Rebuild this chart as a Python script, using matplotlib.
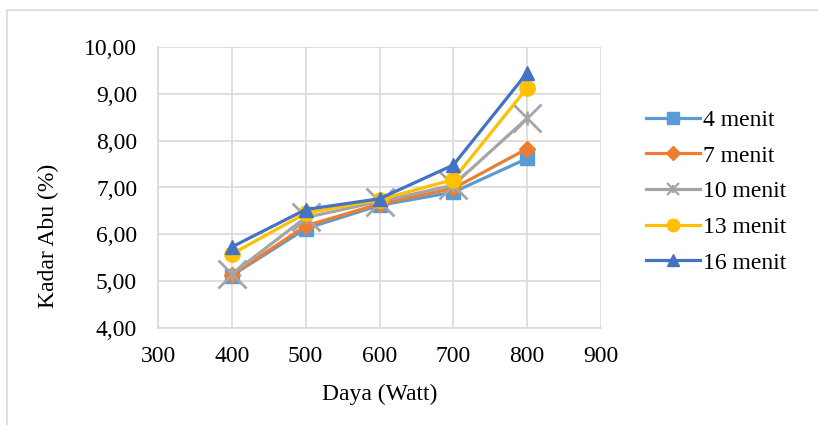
import matplotlib.pyplot as plt
from matplotlib.lines import Line2D
from matplotlib.legend_handler import HandlerTuple
from matplotlib.patches import Rectangle
from matplotlib.ticker import FuncFormatter

plt.rcParams['font.family'] = ['Liberation Serif', 'DejaVu Serif']
FONTSIZE = 17

# Data
daya = [400, 500, 600, 700, 800]
labels = ["4 menit", "7 menit", "10 menit", "13 menit", "16 menit"]
m4 = [5.12, 6.12, 6.62, 6.90, 7.62]
m7 = [5.13, 6.18, 6.65, 6.98, 7.83]
m10 = [5.15, 6.36, 6.70, 7.05, 8.48]
m13 = [5.58, 6.45, 6.74, 7.17, 9.13]
m16 = [5.73, 6.53, 6.76, 7.48, 9.45]

series = [m4, m7, m10, m13, m16]
colors = ["#5B9BD5", "#ED7D31", "#A5A5A5", "#FFC000", "#4472C4"]
markers = ["s", "D", "x", "o", "^"]
msizes = [9.5, 8.5, 20, 11, 10.5]
leg_sizes = [8, 7.5, 8, 9, 8.5]

fig = plt.figure(figsize=(8.18, 4.25), dpi=100)
ax = fig.add_axes([158 / 818, 1 - 328 / 425, (601 - 158) / 818, (328 - 47) / 425])

# chart area border (light gray, open to right/bottom like the crop)
fig.patches.append(Rectangle((7 / 818, -0.5), 2, 1.5 - 10 / 425, transform=fig.transFigure,
                             fill=False, edgecolor="#D9D9D9", linewidth=1.2))

handles = []
for y, lab, c, m, ms, ls in zip(series, labels, colors, markers, msizes, leg_sizes):
    if m == "x":
        # excel "star" marker: big x with a short vertical bar
        ax.plot(daya, y, color=c, marker="x", markersize=ms, markeredgewidth=2, linewidth=2.3)
        ax.plot(daya, y, color=c, marker="|", markersize=10, markeredgewidth=2, linestyle="none")
        h = (Line2D([], [], color=c, marker="x", markersize=ls, markeredgewidth=1.6, linewidth=2.3),
             Line2D([], [], color=c, marker="|", markersize=ls * 0.8, markeredgewidth=1.6,
                    linestyle="none"))
    else:
        ax.plot(daya, y, color=c, marker=m, markersize=ms, markeredgecolor=c, linewidth=2.3)
        h = Line2D([], [], color=c, marker=m, markersize=ls, markeredgecolor=c, linewidth=2.3)
    handles.append(h)

ax.set_xlim(300, 900)
ax.set_ylim(4, 10)
ax.set_xticks(range(300, 901, 100))
ax.set_yticks(range(4, 11))
ax.yaxis.set_major_formatter(FuncFormatter(lambda v, p: f"{v:.2f}".replace(".", ",")))

ax.grid(True, color="#D9D9D9", linewidth=1.2)
ax.set_axisbelow(True)
for s in ["top", "right"]:
    ax.spines[s].set_visible(False)
for s in ["left", "bottom"]:
    ax.spines[s].set_color("#D9D9D9")
    ax.spines[s].set_linewidth(1.2)
ax.tick_params(axis="y", length=0, labelsize=FONTSIZE, pad=15)
ax.tick_params(axis="x", length=0, labelsize=FONTSIZE, pad=13)

fig.text(380 / 818, 1 - 394 / 425, "Daya (Watt)", fontsize=FONTSIZE, ha="center", va="center")
fig.text(48 / 818, 1 - 236 / 425, "Kadar Abu (%)", fontsize=FONTSIZE, ha="center", va="center",
         rotation=90)

fig.legend(handles, labels, loc="upper left", bbox_to_anchor=(637 / 818, 1 - 100 / 425),
           frameon=False, fontsize=FONTSIZE, handlelength=2.25, handletextpad=0.15,
           labelspacing=0.6, borderaxespad=0, handler_map={tuple: HandlerTuple(ndivide=1)})

fig.savefig("out.png", dpi=100)
